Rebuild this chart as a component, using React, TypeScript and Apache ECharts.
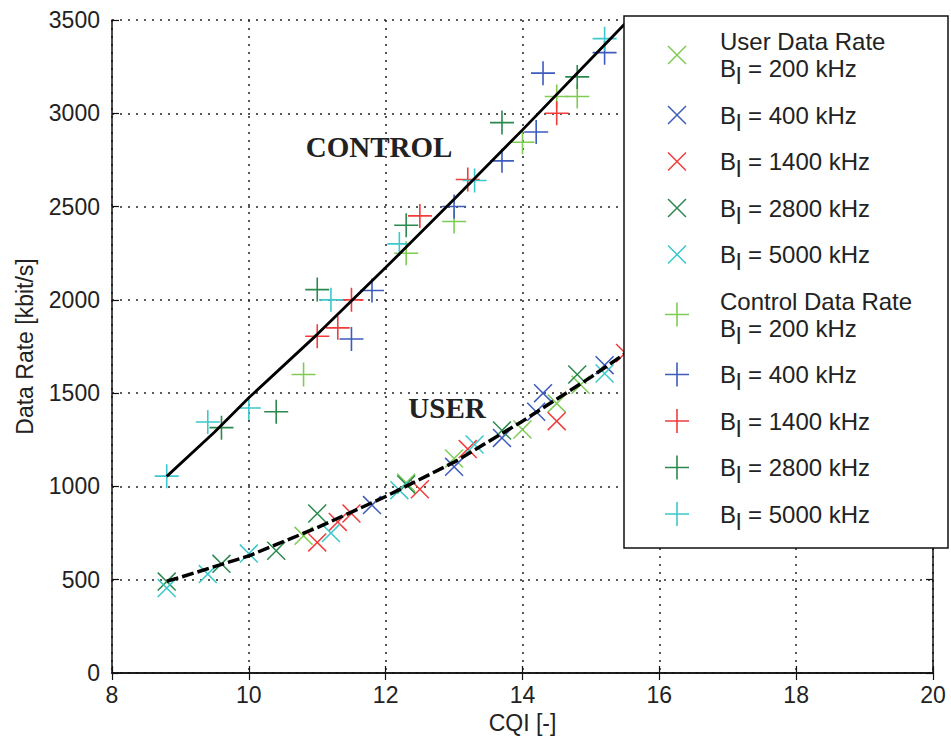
import React, { useEffect, useRef } from "react";
import * as echarts from "echarts";

// ---------- data ----------
const xTicks = [8, 10, 12, 14, 16, 18, 20];
const yTicks = [0, 500, 1000, 1500, 2000, 2500, 3000, 3500];

// User data rate (x markers)
const user200 = [[10.8, 735], [12.3, 1020], [13.0, 1150], [14.0, 1305], [14.5, 1445], [14.85, 1545]];
const user400 = [[11.8, 900], [13.0, 1105], [13.7, 1260], [14.2, 1400], [14.3, 1500], [15.2, 1650]];
const user1400 = [[11.0, 700], [11.3, 810], [11.5, 855], [12.5, 985], [13.2, 1200], [14.5, 1350], [15.5, 1715]];
const user2800 = [[8.8, 490], [9.6, 585], [10.4, 655], [11.0, 855], [12.3, 1010], [13.7, 1300], [14.8, 1600]];
const user5000 = [[8.8, 455], [9.4, 530], [10.0, 640], [11.2, 750], [12.2, 980], [13.3, 1225], [15.2, 1605]];

// Control data rate (+ markers)
const ctrl200 = [[10.8, 1600], [12.3, 2250], [13.0, 2420], [14.0, 2845], [14.5, 3090], [14.8, 3090]];
const ctrl400 = [[11.5, 1790], [11.8, 2050], [13.0, 2500], [13.7, 2745], [14.2, 2900], [14.3, 3215], [15.2, 3325]];
const ctrl1400 = [[11.0, 1805], [11.3, 1850], [11.5, 2000], [12.5, 2450], [13.2, 2645], [14.5, 3000]];
const ctrl2800 = [[9.6, 1315], [10.4, 1400], [11.0, 2055], [12.3, 2400], [13.7, 2950], [14.8, 3195]];
const ctrl5000 = [[8.8, 1055], [9.4, 1345], [10.0, 1420], [11.2, 2000], [12.2, 2300], [13.3, 2640], [15.2, 3400]];

// Fitted curves
const controlFitX = [8.8, 9.5, 10, 11, 12, 13, 14, 15, 15.55];
const controlFitY = [1054, 1292, 1475, 1815, 2173, 2539, 2911, 3291, 3500];
const userFitX = [8.8, 9, 10, 11, 12, 13, 14, 15, 15.5, 16];
const userFitY = [492, 513, 628, 779, 946, 1130, 1350, 1586, 1712, 1845];

const bandwidths = ["200", "400", "1400", "2800", "5000"];
const colors = ["#7fcc55", "#3d5cbd", "#f23c3c", "#2a8a4e", "#3cc8cc"];

const X_MARK =
  "path://M0,0 M24,24 M2.5,3.56 L3.56,2.5 L21.5,20.44 L20.44,21.5 Z M20.44,2.5 L21.5,3.56 L3.56,21.5 L2.5,20.44 Z";
const PLUS_MARK = "path://M11.2,0 H12.8 V24 H11.2 Z M0,11.2 H24 V12.8 H0 Z";

const userSets = [user200, user400, user1400, user2800, user5000];
const ctrlSets = [ctrl200, ctrl400, ctrl1400, ctrl2800, ctrl5000];

const FONT = "Liberation Sans";

export default function App() {
  const ref = useRef<HTMLDivElement>(null);

  useEffect(() => {
    document.body.style.margin = "0";
    if (!ref.current) return;
    const chart = echarts.init(ref.current, undefined, { renderer: "svg" });

    const series: any[] = [];
    const legendData: any[] = [];
    const legendText: Record<string, { head?: string; bw: string }> = {};

    userSets.forEach((d, i) => {
      const name = "user" + bandwidths[i];
      series.push({
        name,
        type: "scatter",
        data: d,
        symbol: X_MARK,
        symbolSize: 24,
        itemStyle: { color: colors[i], opacity: 1 },
        z: 2,
        silent: true,
      });
      legendData.push({ name, icon: X_MARK });
      legendText[name] = { head: i === 0 ? "User Data Rate" : undefined, bw: bandwidths[i] };
    });
    ctrlSets.forEach((d, i) => {
      const name = "ctrl" + bandwidths[i];
      series.push({
        name,
        type: "scatter",
        data: d,
        symbol: PLUS_MARK,
        symbolSize: 24,
        itemStyle: { color: colors[i], opacity: 1 },
        z: 2,
        silent: true,
      });
      legendData.push({ name, icon: PLUS_MARK });
      legendText[name] = { head: i === 0 ? "Control Data Rate" : undefined, bw: bandwidths[i] };
    });

    series.push({
      name: "controlFit",
      type: "line",
      data: controlFitX.map((x, i) => [x, controlFitY[i]]),
      showSymbol: false,
      symbol: "none",
      lineStyle: { color: "#000", width: 2.8 },
      z: 3,
      silent: true,
    });
    series.push({
      name: "userFit",
      type: "line",
      data: userFitX.map((x, i) => [x, userFitY[i]]),
      showSymbol: false,
      symbol: "none",
      lineStyle: { color: "#000", width: 3.5, type: [12, 4] },
      z: 3,
      silent: true,
    });

    const axisCommon = {
      axisLine: { show: true, lineStyle: { color: "#111", width: 1.5 } },
      axisTick: { show: true, inside: true, length: 7, lineStyle: { color: "#111", width: 1.2 } },
    };

    chart.setOption({
      animation: false,
      backgroundColor: "#fff",
      grid: { left: 112, right: 18, top: 20, bottom: 68, containLabel: false },
      xAxis: [
        {
          type: "value",
          min: xTicks[0],
          max: xTicks[xTicks.length - 1],
          interval: 2,
          position: "bottom",
          name: "CQI [-]",
          nameLocation: "middle",
          nameGap: 38,
          nameTextStyle: { fontFamily: FONT, fontSize: 23, color: "#222" },
          axisLabel: { fontFamily: FONT, fontSize: 23, color: "#222", margin: 10 },
          splitLine: { show: true, lineStyle: { color: "#222", width: 1.5, type: [2, 6] } },
          ...axisCommon,
        },
        {
          type: "value",
          min: xTicks[0],
          max: xTicks[xTicks.length - 1],
          interval: 2,
          position: "top",
          axisLabel: { show: false },
          splitLine: { show: false },
          ...axisCommon,
        },
      ],
      yAxis: [
        {
          type: "value",
          min: yTicks[0],
          max: yTicks[yTicks.length - 1],
          interval: 500,
          position: "left",
          name: "Data Rate [kbit/s]",
          nameLocation: "middle",
          nameGap: 76,
          nameTextStyle: { fontFamily: FONT, fontSize: 23, color: "#222" },
          axisLabel: {
            fontFamily: FONT,
            fontSize: 23,
            color: "#222",
            margin: 12,
            formatter: (v: number) => String(v),
          },
          splitLine: { show: true, lineStyle: { color: "#222", width: 1.5, type: [2, 6] } },
          ...axisCommon,
        },
        {
          type: "value",
          min: yTicks[0],
          max: yTicks[yTicks.length - 1],
          interval: 500,
          position: "right",
          axisLabel: { show: false },
          splitLine: { show: false },
          ...axisCommon,
        },
      ],
      legend: {
        show: true,
        orient: "vertical",
        left: 650,
        top: 16,
        padding: [12, 10, 10, 15],
        itemWidth: 76,
        itemHeight: 24,
        itemGap: 14,
        selectedMode: false,
        data: legendData,
        z: 5,
        formatter: (name: string) => {
          const e = legendText[name];
          const line = `{t|B}{s|l}{t| = ${e.bw} kHz}`;
          return e.head ? `{t|${e.head}}\n${line}` : line;
        },
        textStyle: {
          fontFamily: FONT,
          fontSize: 24,
          color: "#222",
          lineHeight: 27,
          rich: {
            t: { fontFamily: FONT, fontSize: 24, lineHeight: 27, color: "#222" },
            s: {
              fontFamily: FONT,
              fontSize: 24,
              lineHeight: 27,
              height: 13,
              verticalAlign: "bottom",
              color: "#222",
            },
          },
        },
      },
      graphic: [
        {
          type: "rect",
          z: 4,
          shape: { x: 624, y: 16, width: 324, height: 532 },
          style: { fill: "#fff", stroke: "#111", lineWidth: 1.5 },
        },
        {
          type: "text",
          z: 4,
          x: 379,
          y: 147,
          style: {
            text: "CONTROL",
            fontFamily: "Liberation Serif",
            fontWeight: "bold",
            fontSize: 29,
            fill: "#222",
            align: "center",
            verticalAlign: "middle",
          },
        },
        {
          type: "text",
          z: 4,
          x: 447,
          y: 408,
          style: {
            text: "USER",
            fontFamily: "Liberation Serif",
            fontWeight: "bold",
            fontSize: 29,
            fill: "#222",
            align: "center",
            verticalAlign: "middle",
          },
        },
      ],
      series,
    });

    return () => chart.dispose();
  }, []);

  return <div ref={ref} style={{ width: 951, height: 741 }} />;
}
